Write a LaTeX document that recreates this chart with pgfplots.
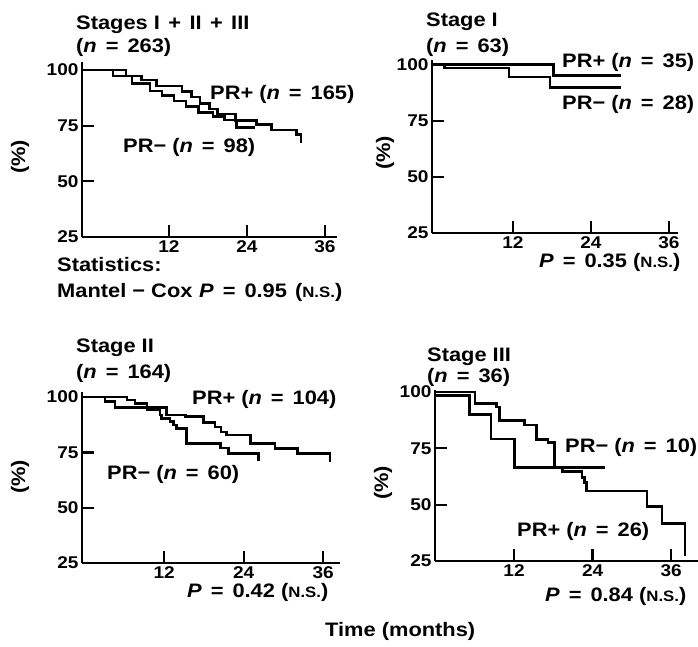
\documentclass[border=0pt]{standalone}
\usepackage{fontspec}
\setmainfont{Liberation Sans}[FakeStretch=1.12]
\usepackage{pgfplots}
\pgfplotsset{compat=1.18}
\newcommand{\tf}{\fontsize{19.5}{22}\selectfont\bfseries}
\newcommand{\ns}{{\fontsize{15}{15}\selectfont N.S.}}
\newcommand{\eq}{\ \hspace{0.15em}=\hspace{0.15em}\ }
\newcommand{\pl}{\ \hspace{0.12em}+\hspace{0.12em}\ }
\pgfplotsset{
  km/.style={scale only axis, axis x line=bottom, axis y line=left,
    axis line style={-, line width=2.3pt}, tick align=inside,
    major tick length=12pt, every tick/.style={black, line width=2.3pt},
    xtick={12,24,36}, ytick={25,50,75,100}, ymin=25, clip=false,
    anchor=south west, /pgf/number format/assume math mode=true,
    every tick label/.append style={font=\fontsize{17}{17}\selectfont\bfseries}},
  kmline/.style={const plot, black, line width=2.6pt, no marks, line join=miter}
}
\tikzset{t/.style={anchor=base west, font=\tf, inner sep=0pt}}
\begin{document}
\begin{tikzpicture}[x=1pt,y=1pt]
\useasboundingbox (0pt,0pt) rectangle (698pt,647pt);
% Panel 1
\begin{axis}[km, at={(82pt,410pt)}, width=255pt, height=175pt, xmin=-1.38, xmax=37.85, ymax=103.6]
\addplot[kmline] coordinates {(-1.3,100)(5.4,97.3)(7.8,95.5)(10.1,92.8)(14,90.3)(15.5,87.8)(16.8,85)(18.2,82.5)(19.5,80.3)(22.2,77.3)(25.5,75.5)(27.8,73)(31.6,71)(32.3,67)};
\addplot[kmline] coordinates {(-1.3,100)(3.4,97.3)(6.3,94)(9.1,90.5)(10.9,88.5)(12.8,86)(14.6,83.5)(16.5,81)(18.8,79)(20.5,77.5)(22.4,74.3)(25.2,74.3)};
\end{axis}
% Panel 2
\begin{axis}[km, at={(432pt,414pt)}, width=246pt, height=173pt, xmin=-0.46, xmax=37.4, ymax=102]
\addplot[kmline] coordinates {(-0.4,100)(18.2,95)(28.7,95)};
\addplot[kmline] coordinates {(-0.4,100)(1.5,98.5)(11.4,94.5)(17.7,89.8)(28.7,89.8)};
\end{axis}
% Panel 3
\begin{axis}[km, at={(82pt,84pt)}, width=258pt, height=171pt, xmin=-0.38, xmax=38.53, ymax=102.3]
\addplot[kmline] coordinates {(-0.3,100)(6.4,98.6)(7.6,97.1)(9.4,95.3)(12.4,91.9)(15.2,91.1)(17.9,88.4)(19.7,86.5)(20.6,84.3)(21.4,82.8)(25,79.1)(28.7,76.8)(32.1,74.5)(37,70.8)};
\addplot[kmline] coordinates {(-0.3,100)(3.1,97.9)(4.6,95.3)(9.4,94.1)(11.4,91.9)(11.6,90.4)(12.9,88.9)(13.4,87.4)(13.9,85.8)(15.4,79)(20.5,77)(21.7,74.5)(26.2,71)};
\end{axis}
% Panel 4
\begin{axis}[km, at={(435pt,86pt)}, width=263pt, height=171pt, xmin=-0.08, xmax=40.1, ymax=100.9]
\addplot[kmline] coordinates {(0,100)(6.0,94.9)(9.3,93.4)(9.8,87.3)(13.6,85.3)(15.4,79)(17.2,77.5)(18.2,66.8)(19.4,64.7)(22.4,62.1)(22.8,59.9)(23.1,56.1)(32.3,49.3)(34.6,41.7)(38.1,27)};
\addplot[kmline] coordinates {(0,98.5)(5.2,90)(8.5,79.2)(12.1,66.5)(25.9,66.5)};
\end{axis}
% Texts panel 1
\node[t] at (76pt,617pt) {Stages I\pl II\pl III};
\node[t] at (76pt,594pt) {(\textit{n}\eq 263)};
\node[t] at (210pt,547pt) {PR+ (\textit{n}\eq 165)};
\node[t] at (123pt,494pt) {PR− (\textit{n}\eq 98)};
\node[t] at (57pt,375pt) {Statistics:};
\node[t] at (57pt,349pt) {Mantel − Cox};
\node[t] at (199pt,349pt) {\textit{P}\eq 0.95 \hspace{0.1em}(\ns)};
\node[rotate=90,font=\tf] at (20pt,490pt) {(\%)};
% panel 2
\node[t] at (426pt,620pt) {Stage I};
\node[t] at (426pt,594pt) {(\textit{n}\eq 63)};
\node[t] at (562pt,579pt) {PR+ (\textit{n}\eq 35)};
\node[t] at (562pt,537pt) {PR− (\textit{n}\eq 28)};
\node[rotate=90,font=\tf] at (385pt,494pt) {(\%)};
\node[t] at (539pt,379pt) {\textit{P}\eq 0.35 (\ns)};
% panel 3
\node[t] at (76pt,294pt) {Stage II};
\node[t] at (76pt,268pt) {(\textit{n}\eq 164)};
\node[t] at (192pt,242pt) {PR+ (\textit{n}\eq 104)};
\node[t] at (107pt,167pt) {PR− (\textit{n}\eq 60)};
\node[rotate=90,font=\tf] at (20pt,170pt) {(\%)};
\node[t] at (187pt,49pt) {\textit{P}\eq 0.42 (\ns)};
% panel 4
\node[t] at (427pt,285pt) {Stage III};
\node[t] at (427pt,264pt) {(\textit{n}\eq 36)};
\node[t] at (565pt,194pt) {PR− (\textit{n}\eq 10)};
\node[t] at (517pt,110pt) {PR+ (\textit{n}\eq 26)};
\node[rotate=90,font=\tf] at (383pt,164pt) {(\%)};
\node[t] at (545pt,45pt) {\textit{P}\eq 0.84 (\ns)};
\node[t] at (325pt,10pt) {Time (months)};
\end{tikzpicture}
\end{document}
